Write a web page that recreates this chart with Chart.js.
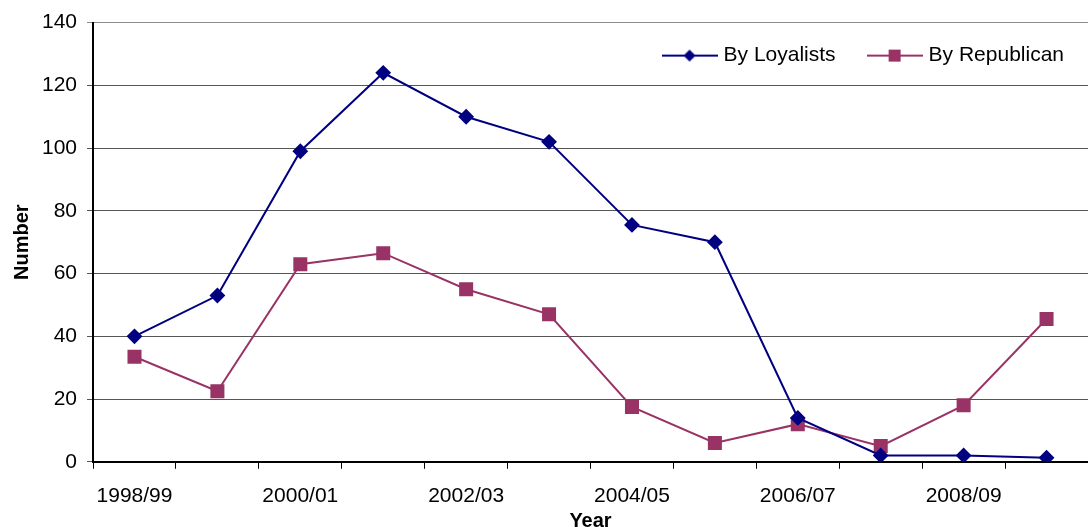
<!DOCTYPE html>
<html>
<head>
<meta charset="utf-8">
<script src="https://cdn.jsdelivr.net/npm/chart.js@4"></script>
<style>
	html, body { margin: 0; padding: 0; background: #ffffff; }
	#wrap { width: 1088px; height: 527px; }
</style>
</head>
<body>
<div id="wrap"><canvas id="chart" width="1088" height="527"></canvas></div>
<script>
// years on the x axis, only every other one is labelled
const years = ["1998/99", "1999/00", "2000/01", "2001/02", "2002/03", "2003/04",
	"2004/05", "2005/06", "2006/07", "2007/08", "2008/09", "2009/10"];

const byLoyalists = [40, 53, 99, 124, 110, 102, 75.5, 70, 14, 2, 2, 1.3];
const byRepublican = [33.5, 22.5, 63, 66.5, 55, 47, 17.5, 6, 12, 5, 18, 45.5];

const yTicks = [0, 20, 40, 60, 80, 100, 120, 140];

const navy = "#000080";
const plum = "#993366";
const fontFamily = "'Liberation Sans', Arial, sans-serif";

// legend symbol: a short line with the marker in the middle
function legendSymbol(color, shape) {
	const c = document.createElement("canvas");
	c.width = 56;
	c.height = 14;
	const ctx = c.getContext("2d");
	ctx.strokeStyle = color;
	ctx.lineWidth = 2;
	ctx.beginPath();
	ctx.moveTo(0, 7);
	ctx.lineTo(56, 7);
	ctx.stroke();
	ctx.fillStyle = color;
	ctx.beginPath();
	if (shape === "diamond") {
		ctx.moveTo(28, 1);
		ctx.lineTo(34, 7);
		ctx.lineTo(28, 13);
		ctx.lineTo(22, 7);
	} else {
		ctx.rect(22, 1, 12, 12);
	}
	ctx.fill();
	return c;
}

const symbols = [legendSymbol(navy, "diamond"), legendSymbol(plum, "square")];

// legend drawn inside the plot, top right
const insideLegend = {
	id: "insideLegend",
	afterDraw(chart) {
		const ctx = chart.ctx;
		const area = chart.chartArea;
		ctx.save();
		ctx.font = "21px " + fontFamily;
		ctx.textBaseline = "middle";
		ctx.fillStyle = "#000000";
		const y = area.top + 33;
		let x = area.right - 24;
		const ds = chart.data.datasets;
		for (let i = ds.length - 1; i >= 0; i--) {
			x -= ctx.measureText(ds[i].label).width;
			ctx.fillText(ds[i].label, x, y);
			x -= 6 + symbols[i].width;
			ctx.drawImage(symbols[i], x, y - symbols[i].height / 2);
			x -= 31;
		}
		ctx.restore();
	}
};

new Chart(document.getElementById("chart"), {
	type: "line",
	data: {
		labels: years,
		datasets: [{
			label: "By Loyalists",
			data: byLoyalists,
			borderColor: navy,
			backgroundColor: navy,
			borderWidth: 2,
			pointStyle: "rectRot",
			pointRadius: 6.5,
			pointHoverRadius: 6.5,
			tension: 0
		}, {
			label: "By Republican",
			data: byRepublican,
			borderColor: plum,
			backgroundColor: plum,
			borderWidth: 2,
			pointStyle: "rect",
			pointRadius: 8.5,
			pointHoverRadius: 8.5,
			tension: 0
		}]
	},
	options: {
		responsive: false,
		animation: false,
		layout: { autoPadding: false, padding: { left: 10, right: 0, top: 20, bottom: 0 } },
		plugins: {
			tooltip: { enabled: false },
			legend: { display: false }
		},
		scales: {
			x: {
				type: "category",
				offset: true,
				grid: { offset: true, drawOnChartArea: false, drawTicks: true, tickLength: 7, color: "#000000" },
				border: { color: "#000000", width: 2 },
				ticks: {
					autoSkip: false,
					maxRotation: 0,
					padding: 15,
					color: "#000000",
					font: { family: fontFamily, size: 21 },
					callback: function(value, index) {
						return index % 2 === 0 ? years[index] : "";
					}
				},
				title: {
					display: true,
					text: "Year",
					color: "#000000",
					padding: { top: -15, bottom: -6 },
					font: { family: fontFamily, size: 20, weight: "bold" }
				}
			},
			y: {
				min: 0,
				max: 140,
				afterBuildTicks: (axis) => {
					axis.ticks = yTicks.map(v => ({ value: v }));
				},
				grid: {
					// top line of the plot is a lighter grey
					color: (c) => c.tick && c.tick.value === 140 ? "#8c8c8c" : "#555555",
					lineWidth: 1,
					tickLength: 6
				},
				border: { color: "#000000", width: 2 },
				ticks: {
					padding: 10,
					color: "#000000",
					font: { family: fontFamily, size: 21 }
				},
				title: {
					display: true,
					text: "Number",
					color: "#000000",
					padding: { top: 0, bottom: -2 },
					font: { family: fontFamily, size: 20, weight: "bold" }
				}
			}
		}
	},
	plugins: [insideLegend]
});
</script>
</body>
</html>
